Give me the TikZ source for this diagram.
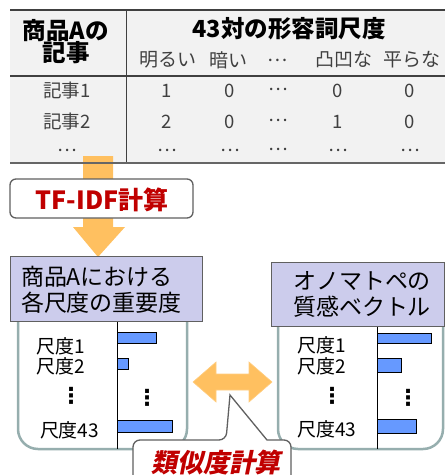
\documentclass[tikz,border=0pt]{standalone}
\usepackage{fontspec}
\setmainfont{Noto Sans CJK JP}
\newfontfamily\slfont[FakeSlant=0.2]{Noto Sans CJK JP}
\newfontfamily\dvfont{DejaVu Sans}
\definecolor{tablebg}{RGB}{242,242,242}
\definecolor{tline}{RGB}{64,64,64}
\definecolor{txtgray}{RGB}{64,64,64}
\definecolor{arrorange}{RGB}{255,192,96}
\definecolor{lav}{RGB}{204,204,236}
\definecolor{barblue}{RGB}{102,153,255}
\definecolor{panelline}{RGB}{150,174,174}
\definecolor{darkred}{RGB}{192,0,0}
\definecolor{boxline}{RGB}{96,96,96}
\begin{document}
\begin{tikzpicture}[x=1pt,y=-1pt,
  txt/.style={inner sep=0pt,outer sep=0pt},
  hdr/.style={txt,font=\fontsize{23.5}{26}\selectfont\bfseries},
  colh/.style={txt,font=\fontsize{19}{21}\selectfont,text=txtgray},
  cell/.style={txt,font=\fontsize{18.5}{20}\selectfont,text=txtgray},
  phead/.style={draw=boxline,line width=0.8pt,fill=lav},
  ptext/.style={txt,font=\fontsize{23}{26}\selectfont},
  lbl/.style={txt,font=\fontsize{19}{21}\selectfont,anchor=west},
  vdots/.style={txt,font=\fontsize{22}{24}\dvfont\bfseries},
  bar/.style={draw=black,line width=0.9pt,fill=barblue},
  panel/.style={draw=panelline,line width=2.5pt,fill=white,rounded corners=20pt},
  orangearrow/.style={fill=arrorange,draw=arrorange!80!white,line width=0.6pt},
  callbox/.style={draw=boxline,line width=1.3pt,fill=white}
]
\useasboundingbox (0,0) rectangle (445,475);

% ---------- table ----------
\fill[tablebg] (10,10) rectangle (445,163);
\draw[line width=2pt,tline] (10,10) -- (445,10);
\draw[line width=1.2pt,tline] (10,76) -- (445,76);
\draw[line width=1pt,tline] (126,10) -- (126,163);

\node[hdr] (h1) at (66,31) {商品Aの};
\node[hdr] (h2) at (66,53) {記事};
\node[hdr] (h3) at (289,29) {43対の形容詞尺度};

\node[colh] (c1) at (168,60) {明るい};
\node[colh] (c2) at (228,60) {暗い};
\node[colh] (c3) at (278,60) {…};
\node[colh] (c4) at (344,60) {凸凹な};
\node[colh] (c5) at (412,60) {平らな};

\node[cell] (r1) at (67,90) {記事1};
\node[cell] (r2) at (67,121) {記事2};
\node[cell] (r3) at (67,150) {…};

\node[cell] (a1) at (167,91) {1};
\node[cell] (a2) at (230,91) {0};
\node[cell] (a3) at (278,89) {…};
\node[cell] (a4) at (338,91) {0};
\node[cell] (a5) at (410,91) {0};

\node[cell] (b1) at (167,122) {2};
\node[cell] (b2) at (230,122) {0};
\node[cell] (b3) at (278,120) {…};
\node[cell] (b4) at (338,122) {1};
\node[cell] (b5) at (410,122) {0};

\node[cell] (d1) at (167,150) {…};
\node[cell] (d2) at (230,150) {…};
\node[cell] (d3) at (278,149) {…};
\node[cell] (d4) at (338,150) {…};
\node[cell] (d5) at (410,150) {…};

% ---------- down arrow ----------
\fill[arrorange] (83,156) -- (113,156) -- (113,227) -- (125,227) -- (98,257)
   -- (73,227) -- (83,227) -- cycle;
\draw[line width=1.2pt,tline!80!white] (10,163) -- (445,163);
\fill[arrorange] (83,164) rectangle (113,170);

% ---------- TF-IDF box ----------
\draw[callbox,rounded corners=6pt] (10,179) rectangle (193,218);
\node[txt,font=\fontsize{25}{27}\selectfont\bfseries,text=darkred] (tfidf) at (102,200) {TF-IDF計算};

% ---------- left panel ----------
\draw[panel] (18,290) rectangle (187,449);
\draw[line width=0.9pt] (117,321) -- (117,449);
\draw[phead] (10,256) rectangle (202,321);
\node[ptext,align=left,anchor=west] (lhead) at (21,290) {商品Aにおける\\各尺度の重要度};

\node[lbl] (l1) at (37,346) {尺度1};
\node[lbl] (l2) at (37,366) {尺度2};
\node[vdots] (ld) at (71,396) {⋮};
\node[lbl] (l43) at (40,430) {尺度43};

\draw[bar] (117,332) rectangle (156,343);
\draw[bar] (117,358) rectangle (128,369);
\draw[bar] (117,420) rectangle (172,432);
\node[vdots] (lbd) at (147,398) {⋮};

% ---------- right panel ----------
\draw[panel] (278,295) rectangle (443,449);
\draw[line width=0.9pt] (377,326) -- (377,449);
\draw[phead] (271,262) rectangle (444.5,326);
\node[ptext,align=center] (rhead) at (362,294) {オノマトペの\\質感ベクトル};

\node[lbl] (q1) at (297,345) {尺度1};
\node[lbl] (q2) at (297,366) {尺度2};
\node[vdots] (qd) at (332,396) {⋮};
\node[lbl] (q43) at (297,429) {尺度43};

\draw[bar] (377,333) rectangle (431,343);
\draw[bar] (377,358) rectangle (401,372);
\draw[bar] (377,419) rectangle (416,433);
\node[vdots] (qbd) at (408,398) {⋮};

% ---------- double arrow ----------
\draw[orangearrow] (193,382) -- (216,362) -- (216,374) -- (249,374) -- (249,362)
  -- (272,382) -- (249,402) -- (249,390) -- (216,390) -- (216,402) -- cycle;

% ---------- callout ----------
\coordinate (tip) at (230,395);
\draw[callbox] [rounded corners=7pt] (133,485) -- (133,440) -- (226,440)
  [sharp corners] -- (tip) -- (267,440) [rounded corners=7pt] -- (291,440) -- (291,485);
\node[txt,font=\fontsize{26}{28}\slfont\bfseries,text=darkred] (sim) at (216,463) {類似度計算};
\end{tikzpicture}
\end{document}
